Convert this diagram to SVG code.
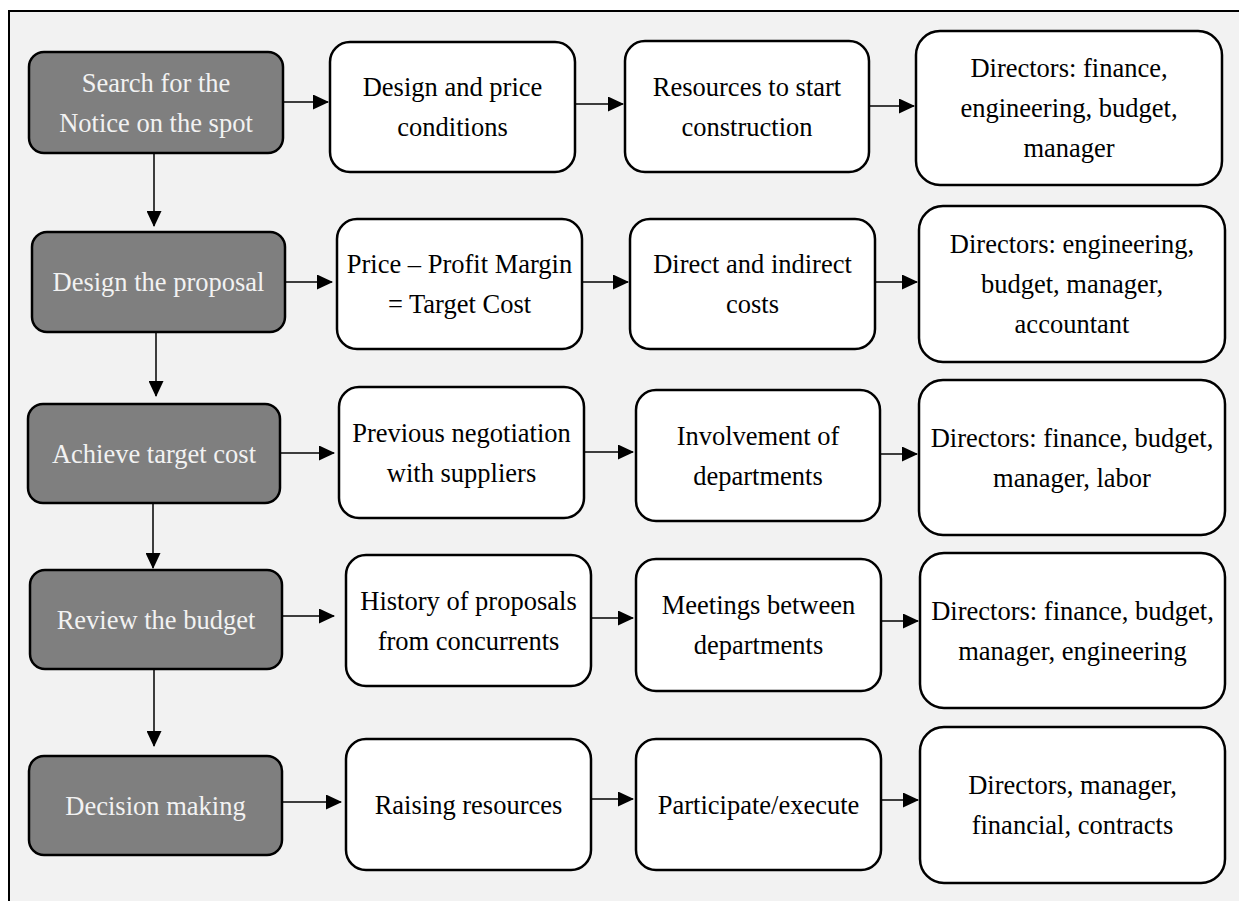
<svg xmlns="http://www.w3.org/2000/svg" width="1239" height="901" viewBox="0 0 1239 901">
<style>
.dark rect{fill:#7f7f7f;stroke:#000;stroke-width:2.5}
.lite rect{fill:#fff;stroke:#000;stroke-width:2.5}
text{font-family:"Liberation Serif","Times New Roman",serif;font-size:26.5px;text-anchor:middle}
.dark text{fill:#f2f2f2}
.lite text{fill:#000}
.conn line{stroke:#000;stroke-width:1.5;marker-end:url(#ah)}
</style>
<defs>
<marker id="ah" markerUnits="userSpaceOnUse" markerWidth="16" markerHeight="15" refX="15" refY="7.5" orient="auto">
<path d="M0,0 L16,7.5 L0,15 Z" fill="#000"/>
</marker>
</defs>
<rect x="0" y="0" width="1239" height="901" fill="#fff"/>
<rect x="9" y="11" width="1250" height="910" fill="#f2f2f2" stroke="#000" stroke-width="2"/>

<g class="conn">
<line x1="154" y1="153" x2="154" y2="226"/>
<line x1="156" y1="332" x2="156" y2="396"/>
<line x1="153" y1="503" x2="153" y2="568"/>
<line x1="154" y1="669" x2="154" y2="746"/>
<line x1="283" y1="102" x2="328" y2="102"/>
<line x1="575" y1="104" x2="623" y2="104"/>
<line x1="869" y1="106" x2="914" y2="106"/>
<line x1="285" y1="282" x2="332" y2="282"/>
<line x1="582" y1="282" x2="628" y2="282"/>
<line x1="876" y1="282" x2="917" y2="282"/>
<line x1="280" y1="453" x2="334" y2="453"/>
<line x1="584" y1="452" x2="633" y2="452"/>
<line x1="880" y1="454" x2="917" y2="454"/>
<line x1="282" y1="616" x2="334" y2="616"/>
<line x1="591" y1="618" x2="633" y2="618"/>
<line x1="881" y1="621" x2="918" y2="621"/>
<line x1="282" y1="802" x2="341" y2="802"/>
<line x1="591" y1="799" x2="633" y2="799"/>
<line x1="881" y1="800" x2="918" y2="800"/>
</g>

<g id="n1" class="dark"><rect x="29" y="52" width="254" height="101" rx="15"/><text x="156" y="91.5">Search for the</text><text x="156" y="131.5">Notice on the spot</text></g>
<g id="n2" class="dark"><rect x="32" y="232" width="253" height="100" rx="15"/><text x="158.5" y="291">Design the proposal</text></g>
<g id="n3" class="dark"><rect x="28" y="404" width="252" height="99" rx="15"/><text x="154" y="462.5">Achieve target cost</text></g>
<g id="n4" class="dark"><rect x="30" y="570" width="252" height="99" rx="15"/><text x="156" y="628.5">Review the budget</text></g>
<g id="n5" class="dark"><rect x="29" y="756" width="253" height="99" rx="15"/><text x="155.5" y="814.5">Decision making</text></g>

<g id="r1c2" class="lite"><rect x="330" y="42" width="245" height="130" rx="20"/><text x="452.5" y="96">Design and price</text><text x="452.5" y="136">conditions</text></g>
<g id="r1c3" class="lite"><rect x="625" y="41" width="244" height="131" rx="20"/><text x="747" y="95.5">Resources to start</text><text x="747" y="135.5">construction</text></g>
<g id="r1c4" class="lite"><rect x="916" y="31" width="306" height="154" rx="24"/><text x="1069" y="77">Directors: finance,</text><text x="1069" y="117">engineering, budget,</text><text x="1069" y="157">manager</text></g>

<g id="r2c2" class="lite"><rect x="337" y="219" width="245" height="130" rx="20"/><text x="459.5" y="273">Price – Profit Margin</text><text x="459.5" y="313">= Target Cost</text></g>
<g id="r2c3" class="lite"><rect x="630" y="219" width="245" height="130" rx="20"/><text x="752.5" y="273">Direct and indirect</text><text x="752.5" y="313">costs</text></g>
<g id="r2c4" class="lite"><rect x="919" y="206" width="306" height="156" rx="24"/><text x="1072" y="253">Directors: engineering,</text><text x="1072" y="293">budget, manager,</text><text x="1072" y="333">accountant</text></g>

<g id="r3c2" class="lite"><rect x="339" y="387" width="245" height="131" rx="20"/><text x="461.5" y="441.5">Previous negotiation</text><text x="461.5" y="481.5">with suppliers</text></g>
<g id="r3c3" class="lite"><rect x="636" y="390" width="244" height="131" rx="20"/><text x="758" y="444.5">Involvement of</text><text x="758" y="484.5">departments</text></g>
<g id="r3c4" class="lite"><rect x="919" y="380" width="306" height="155" rx="24"/><text x="1072" y="446.5">Directors: finance, budget,</text><text x="1072" y="486.5">manager, labor</text></g>

<g id="r4c2" class="lite"><rect x="346" y="555" width="245" height="131" rx="20"/><text x="468.5" y="609.5">History of proposals</text><text x="468.5" y="649.5">from concurrents</text></g>
<g id="r4c3" class="lite"><rect x="636" y="559" width="245" height="132" rx="20"/><text x="758.5" y="614">Meetings between</text><text x="758.5" y="654">departments</text></g>
<g id="r4c4" class="lite"><rect x="920" y="553" width="305" height="155" rx="24"/><text x="1072.5" y="619.5">Directors: finance, budget,</text><text x="1072.5" y="659.5">manager, engineering</text></g>

<g id="r5c2" class="lite"><rect x="346" y="739" width="245" height="131" rx="20"/><text x="468.5" y="813.5">Raising resources</text></g>
<g id="r5c3" class="lite"><rect x="636" y="739" width="245" height="131" rx="20"/><text x="758.5" y="813.5">Participate/execute</text></g>
<g id="r5c4" class="lite"><rect x="920" y="727" width="305" height="156" rx="24"/><text x="1072.5" y="794">Directors, manager,</text><text x="1072.5" y="834">financial, contracts</text></g>
</svg>
